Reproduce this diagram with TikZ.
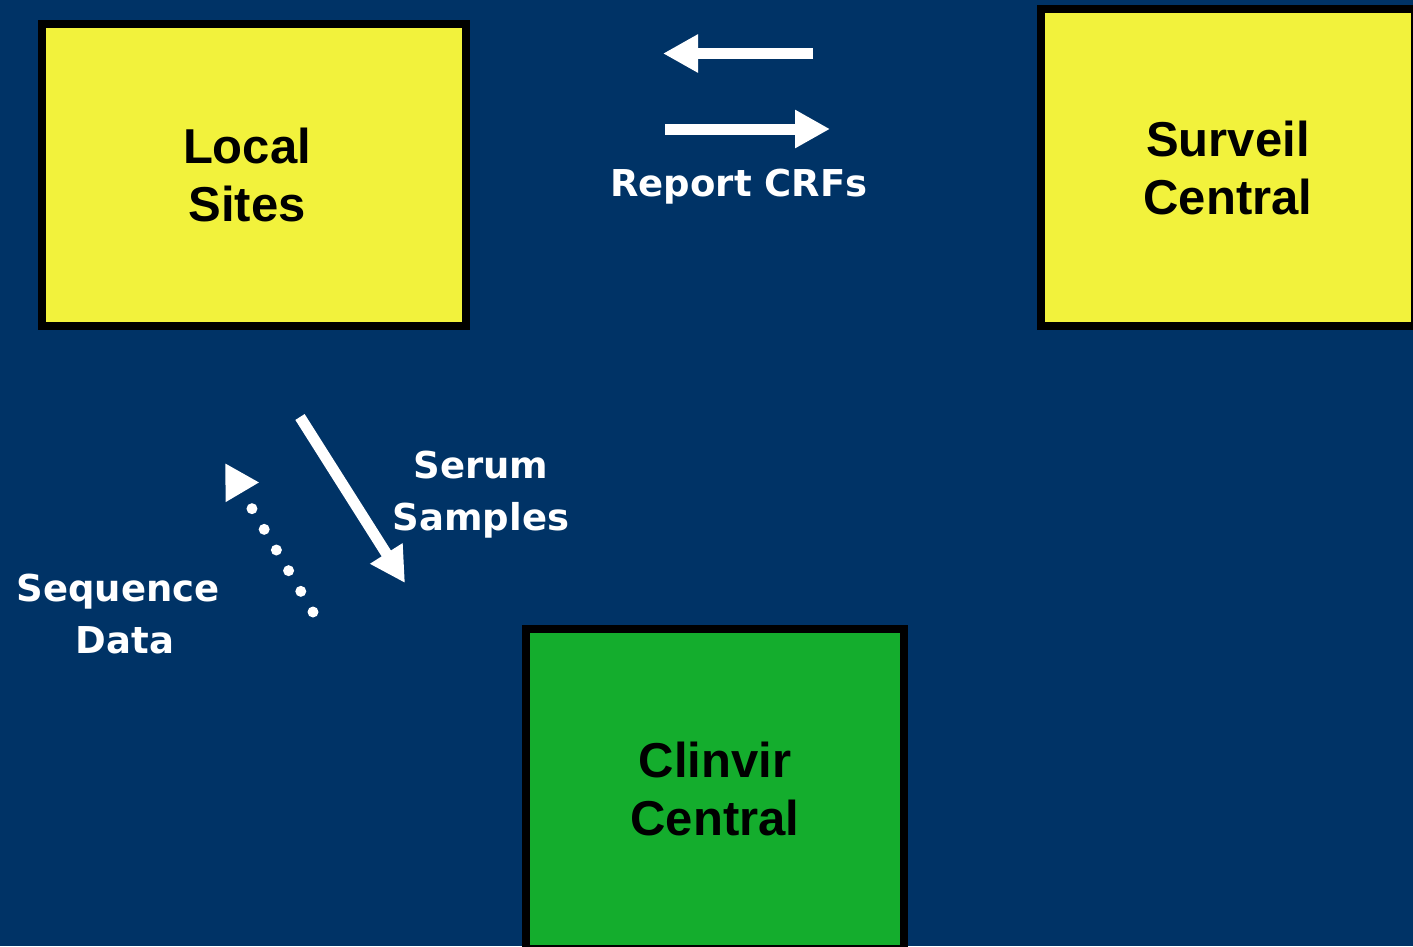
\documentclass[tikz,border=0pt]{standalone}
\usepackage{fontspec}
\setmainfont{Liberation Sans}
\newfontfamily\labelfont{DejaVu Sans}
\usetikzlibrary{arrows.meta}
\definecolor{bgblue}{HTML}{003366}
\definecolor{boxyellow}{HTML}{F2F23C}
\definecolor{boxgreen}{HTML}{14AD2D}
\tikzset{
  box/.style={draw=black, line width=8pt, inner sep=0pt, align=center,
    font=\fontsize{49}{58}\selectfont\bfseries, text=black},
  flowlabel/.style={text=white, inner sep=0pt, align=center,
    font=\labelfont\fontsize{37}{52}\selectfont\bfseries},
  bigarrow/.style={draw=white, line width=11pt,
    -{Triangle[length=35pt, width=36pt]}, fill=white},
  dotarrow/.style={draw=white, line width=11pt, line cap=round,
    dash pattern=on 0pt off 24pt,
    -{Triangle[length=34pt, width=36pt, line cap=butt]}}
}
\begin{document}
\begin{tikzpicture}[x=1pt, y=-1pt]
  \useasboundingbox (0,0) rectangle (1413,946);
  \fill[bgblue] (0,0) rectangle (1413,946);
  \clip (0,0) rectangle (1413,946);

  \node[box, fill=boxyellow, minimum width=424pt, minimum height=302pt] (local) at (254,175) {\hspace*{-14pt}Local\\\hspace*{-14pt}Sites};
  \node[box, fill=boxyellow, minimum width=374pt, minimum height=317pt] (surveil) at (1228,167.5) {Surveil\\Central};
  \node[box, fill=boxgreen, minimum width=378pt, minimum height=320pt] (clinvir) at (715,789) {Clinvir\\Central};

  \coordinate (la) at (813,53.5);
  \coordinate (lb) at (663,53.5);
  \coordinate (ra) at (665,129);
  \coordinate (rb) at (830,129);
  \draw[bigarrow] (la) -- (lb);
  \draw[bigarrow] (ra) -- (rb);
  \node[flowlabel, anchor=base] (report) at (739,196) {Report CRFs};

  \coordinate (sa) at (300,417);
  \coordinate (sb) at (405,583);
  \draw[bigarrow] (sa) -- (sb);
  \node[flowlabel] (serum) at (481,495) {Serum\\Samples};

  \coordinate (da) at (313,612);
  \coordinate (db) at (225,463);
  \draw[dotarrow] (da) -- (db);
  \node[flowlabel] (seq) at (118,614) {Sequence\\\hspace*{14pt}Data};
\end{tikzpicture}
\end{document}
